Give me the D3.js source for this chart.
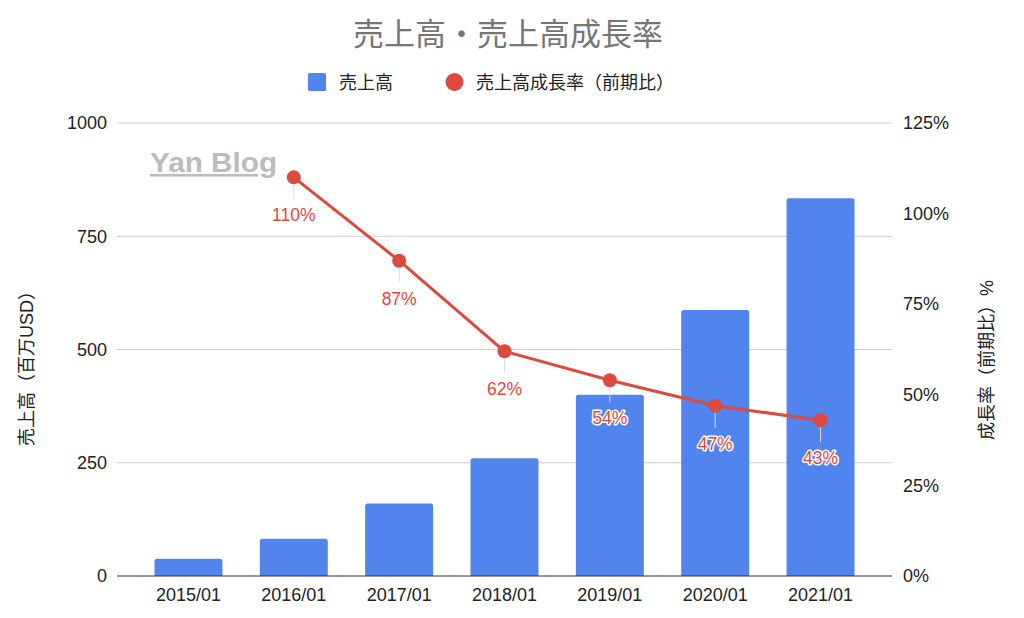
<!DOCTYPE html>
<html><head><meta charset="utf-8">
<script src="https://cdn.jsdelivr.net/npm/d3@7"></script>
<style>
body{margin:0;background:#fff;}
text{font-family:"Liberation Sans",Arial,"Noto Sans CJK JP",sans-serif;}
</style></head>
<body><svg id="c" width="1024" height="618"></svg>
<script>
const categories = ["2015/01","2016/01","2017/01","2018/01","2019/01","2020/01","2021/01"];
const sales = [38, 82, 160, 260, 400, 587, 834];
const growth = [null, 110, 87, 62, 54, 47, 43];
const leftTicks = [0, 250, 500, 750, 1000];
const rightTicks = [0, 25, 50, 75, 100, 125];

const svg = d3.select("#c");
const L = 117, R = 892, T = 123, B = 576;
const x = d3.scaleBand().domain(categories).range([L, R]).paddingInner(0.355).paddingOuter(0.356);
const y = d3.scaleLinear().domain([0, 1000]).range([B, T]);
const y2 = d3.scaleLinear().domain([0, 125]).range([B, T]);
const font = '"Liberation Sans",Arial,"Noto Sans CJK JP",sans-serif';

// title
svg.append("text").attr("x", 508).attr("y", 45).attr("text-anchor","middle")
  .attr("font-size", 31).attr("fill", "#757575").text("売上高・売上高成長率");

// legend
svg.append("rect").attr("x",308).attr("y",73).attr("width",18).attr("height",18).attr("rx",1.5).attr("fill","#5184ec");
svg.append("text").attr("x",339).attr("y",89).attr("font-size",18).attr("fill","#222").text("売上高");
svg.append("circle").attr("cx",454.5).attr("cy",82).attr("r",9).attr("fill","#db4a3c");
svg.append("text").attr("x",476).attr("y",89).attr("font-size",18).attr("fill","#222").text("売上高成長率（前期比）");

// gridlines
svg.append("g").selectAll("line").data(leftTicks.filter(d=>d>0)).join("line")
  .attr("x1", L).attr("x2", R).attr("y1", d=>y(d)).attr("y2", d=>y(d))
  .attr("stroke", "#cccccc").attr("stroke-width", 1);

// left axis labels
const gl = svg.append("g").attr("transform", `translate(${L-10},0)`)
  .call(d3.axisLeft(y).tickValues(leftTicks).tickFormat(d3.format("d")).tickSize(0).tickPadding(0));
gl.select(".domain").remove();
gl.selectAll("text").attr("font-size", 18).attr("fill", "#222").attr("font-family", font);

// right axis labels
const gr = svg.append("g").attr("transform", `translate(${R+11},0)`)
  .call(d3.axisRight(y2).tickValues(rightTicks).tickFormat(d=>d+"%").tickSize(0).tickPadding(0));
gr.select(".domain").remove();
gr.selectAll("text").attr("font-size", 18).attr("fill", "#222").attr("font-family", font);

// axis titles
svg.append("text").attr("transform","translate(33,364) rotate(-90)").attr("text-anchor","middle")
  .attr("font-size",18).attr("fill","#222").text("売上高（百万USD）");
svg.append("text").attr("transform","translate(993,360) rotate(-90)").attr("text-anchor","middle")
  .attr("font-size",18).attr("fill","#222").text("成長率（前期比）%");

// bars
const r = 2.5;
svg.append("g").selectAll("path").data(categories).join("path")
  .attr("d", (c,i) => {
    const x0 = x(c), w = x.bandwidth(), y0 = y(sales[i]);
    return `M${x0},${B} L${x0},${y0+r} Q${x0},${y0} ${x0+r},${y0} L${x0+w-r},${y0} Q${x0+w},${y0} ${x0+w},${y0+r} L${x0+w},${B} Z`;
  })
  .attr("fill", "#5184ec");

// baseline
svg.append("line").attr("x1",L).attr("x2",R).attr("y1",B).attr("y2",B).attr("stroke","#333").attr("stroke-width",1.2);

// x labels
const gx = svg.append("g").attr("transform", `translate(0,${B})`)
  .call(d3.axisBottom(x).tickSize(0));
gx.select(".domain").remove();
gx.selectAll("text").attr("y", 25).attr("dy", 0).attr("font-size", 18).attr("fill", "#222").attr("font-family", font);

// watermark
svg.append("text").attr("transform","translate(150,172) scale(1.1,1)").attr("font-size",27).attr("font-weight","bold")
  .attr("fill","#bcbcbc").attr("text-decoration","underline").text("Yan Blog");

// line series
const pts = categories.map((c,i)=>({c, v: growth[i]})).filter(d=>d.v!==null);
const cx = d => x(d.c) + x.bandwidth()/2;

// leader lines
svg.append("g").selectAll("line").data(pts).join("line")
  .attr("x1", cx).attr("x2", cx).attr("y1", d=>y2(d.v)).attr("y2", d=>y2(d.v)+22)
  .attr("stroke", "#dddddd").attr("stroke-width", 1);

svg.append("path").datum(pts)
  .attr("d", d3.line().x(cx).y(d=>y2(d.v)))
  .attr("fill","none").attr("stroke","#db4a3c").attr("stroke-width",3);
svg.append("g").selectAll("circle").data(pts).join("circle")
  .attr("cx", cx).attr("cy", d=>y2(d.v)).attr("r", 7).attr("fill", "#db4a3c");

// data labels
svg.append("g").selectAll("text").data(pts).join("text")
  .attr("x", cx).attr("y", d=>y2(d.v)+44).attr("text-anchor","middle")
  .attr("font-size", 17.5).attr("fill", "#db4a3c")
  .attr("stroke", "#fff").attr("stroke-width", 3).attr("paint-order", "stroke")
  .attr("stroke-linejoin","round")
  .text(d=>d.v+"%");
</script></body></html>
